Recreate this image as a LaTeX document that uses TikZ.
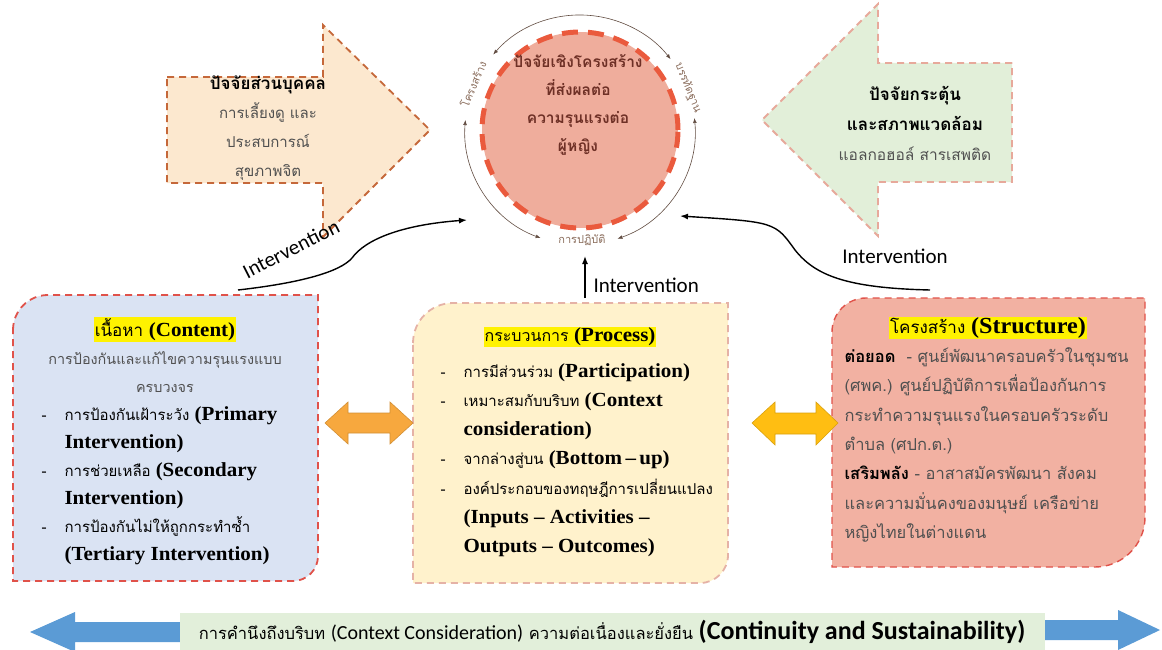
\documentclass[tikz,border=0pt]{standalone}
\usepackage{fontspec}
\setmainfont[Script=Thai]{Loma}
\newfontfamily\tms[FakeStretch=1.05]{Liberation Serif}
\newfontfamily\calib{Carlito}
\usetikzlibrary{arrows.meta}
\definecolor{peach}{HTML}{FCE8CF}
\definecolor{peachline}{HTML}{C5683A}
\definecolor{mint}{HTML}{E2EFD9}
\definecolor{mintline}{HTML}{E7A99B}
\definecolor{salmon}{HTML}{EFAD9C}
\definecolor{ring}{HTML}{EA5A3D}
\definecolor{maroon}{HTML}{6E3026}
\definecolor{paleblue}{HTML}{DAE3F3}
\definecolor{paleyellow}{HTML}{FFF2CC}
\definecolor{pink}{HTML}{F2B1A2}
\definecolor{redline}{HTML}{E0524A}
\definecolor{pinkline}{HTML}{E5B2A6}
\definecolor{txtgray}{HTML}{505050}
\definecolor{arcgray}{HTML}{8A6D5C}
\definecolor{orange}{HTML}{F7A83E}
\definecolor{gold}{HTML}{FFBE12}
\definecolor{barblue}{HTML}{5B9BD5}
\definecolor{bargreen}{HTML}{E2EFDA}
\newcommand{\en}[2][20]{{\tms\bfseries\fontsize{#1}{28}\selectfont #2}}
\newcommand{\hl}[1]{{\setlength{\fboxsep}{1pt}\colorbox{yellow}{\color{black}#1}}}
\newcommand{\itm}{\makebox[23pt][l]{-}}
\newcommand{\ind}{\hspace*{23pt}}
\begin{document}
\begin{tikzpicture}[x=1pt,y=-1pt]
		\tikzstyle{dashbox} = [line width=1.8pt, dash pattern=on 7pt off 5pt]
		\tikzstyle{cyc} = [arcgray!70!black, line width=0.6pt, {Latex[length=5pt]}-{Latex[length=5pt]}]
		\tikzstyle{interv} = [line width=1.4pt, -{Latex[length=8pt]}]
		\tikzstyle{blabel} = [font=\calib\fontsize{21}{22}\selectfont]
	    \useasboundingbox (0,0) rectangle (1162,650);
	    % big side arrows
	    \draw[dashbox, fill=peach, draw=peachline] (167,77) -- (323,77) -- (323,25) -- (430,130) -- (323,237) -- (323,183) -- (167,183) -- cycle;
	    \draw[dashbox, fill=mint, draw=mintline] (1012,63) -- (878,63) -- (878,4) -- (762,120) -- (878,236) -- (878,182) -- (1012,182) -- cycle;
	    \node[align=center, font=\fontsize{15}{29}\selectfont, text=txtgray] (person) at (268,128) {{\color{black}\bfseries\fontsize{17}{29}\selectfont ปัจจัยส่วนบุคคล}\\การเลี้ยงดู และ\\ประสบการณ์\\สุขภาพจิต};
	    \node[align=center, font=\fontsize{15.5}{30}\selectfont, text=txtgray] (trigger) at (915,123) {{\color{black}\bfseries\fontsize{17}{30}\selectfont ปัจจัยกระตุ้น}\\{\color{black}\bfseries\fontsize{17}{30}\selectfont และสภาพแวดล้อม}\\แอลกอฮอล์ สารเสพติด};
	    % centre circle
	    \node[shape=circle, fill=salmon, draw=ring, line width=5pt, dash pattern=on 16pt off 10pt, minimum size=196pt] (circ) at (580,130) {};
	    \node[align=center, font=\bfseries\fontsize{15.5}{28}\selectfont, text=maroon] (ctext) at (578,105) {ปัจจัยเชิงโครงสร้าง\\ที่ส่งผลต่อ\\ความรุนแรงต่อ\\ผู้หญิง};
	    \draw[cyc] ([shift={(221:115)}]circ.center) arc[start angle=221, end angle=322, radius=115];
	    \draw[cyc] ([shift={(185:115)}]circ.center) arc[start angle=185, end angle=110, radius=115];
	    \draw[cyc] ([shift={(-6:115)}]circ.center) arc[start angle=-6, end angle=71, radius=115];
	    \node[rotate=67, text=arcgray, font=\fontsize{11}{12}\selectfont] (lstruct) at (473,84) {โครงสร้าง};
	    \node[rotate=-68, text=arcgray, font=\fontsize{11}{12}\selectfont] (lnorm) at (688,88) {บรรทัดฐาน};
	    \node[text=arcgray, font=\fontsize{11}{12}\selectfont] (lpract) at (582,240) {การปฏิบัติ};
	    % three boxes
	    \draw[dashbox, fill=paleblue, draw=redline] (13,330) arc[start angle=180, end angle=270, radius=35] -- (318,295) -- (318,556) arc[start angle=0, end angle=90, radius=25] -- (13,581) -- cycle;
	    \draw[dashbox, fill=paleyellow, draw=pinkline] (413,343) arc[start angle=180, end angle=270, radius=40] -- (728,303) -- (728,555) arc[start angle=0, end angle=90, radius=28] -- (413,583) -- cycle;
	    \draw[dashbox, line width=1.4pt, fill=pink, draw=redline] (832,332) arc[start angle=180, end angle=270, radius=34] -- (1145,298) -- (1145,517) arc[start angle=0, end angle=90, radius=50] -- (832,567) -- cycle;
	    \node[align=center, font=\fontsize{14.4}{28}\selectfont, text=txtgray] (content) at (165,355) {\hl{\fontsize{17}{20}\selectfont เนื้อหา \en{(Content)}}\\การป้องกันและแก้ไขความรุนแรงแบบ\\ครบวงจร};
	    \node[anchor=west, align=left, font=\fontsize{15}{28}\selectfont] (clist) at (38,486) {\itm การป้องกันเฝ้าระวัง \en{(Primary}\\\ind\en{Intervention)}\\\itm การช่วยเหลือ \en{(Secondary}\\\ind\en{Intervention)}\\\itm การป้องกันไม่ให้ถูกกระทำซ้ำ\\\ind\en{(Tertiary Intervention)}};
	    \node[font=\fontsize{16}{20}\selectfont] (process) at (570,337) {\hl{กระบวนการ \en{(Process)}}};
	    \node[anchor=west, align=left, font=\fontsize{15}{29.2}\selectfont] (plist) at (437,460) {\itm การมีส่วนร่วม \en{(Participation)}\\\itm เหมาะสมกับบริบท \en{(Context}\\\ind\en{consideration)}\\\itm จากล่างสู่บน \en{(Bottom\,–\,up)}\\\itm องค์ประกอบของทฤษฎีการเปลี่ยนแปลง\\\ind\en{(Inputs – Activities –}\\\ind\en{Outputs – Outcomes)}};
	    \node[font=\fontsize{17}{20}\selectfont] (structure) at (988,328) {\hl{โครงสร้าง \en[23]{(Structure)}}};
	    \node[anchor=west, align=left, font=\fontsize{16.5}{29.3}\selectfont, text=txtgray] (slist) at (841,445) {{\color{black}\bfseries ต่อยอด}\ \ - ศูนย์พัฒนาครอบครัวในชุมชน\\(ศพค.) ศูนย์ปฏิบัติการเพื่อป้องกันการ\\กระทำความรุนแรงในครอบครัวระดับ\\ตำบล (ศปก.ต.)\\{\color{black}\bfseries เสริมพลัง} - อาสาสมัครพัฒนา สังคม\\และความมั่นคงของมนุษย์ เครือข่าย\\หญิงไทยในต่างแดน};
	    % double arrows between boxes
	    \draw[fill=orange, draw=orange!85!black, line width=0.6pt] (325,423) -- (348,402) -- (348,413) -- (390,413) -- (390,402) -- (413,423) -- (390,444) -- (390,433) -- (348,433) -- (348,444) -- cycle;
	    \draw[fill=gold, draw=gold!85!black, line width=0.6pt] (752,423) -- (775,402) -- (775,413) -- (816,413) -- (816,402) -- (838,423) -- (816,445) -- (816,434) -- (775,434) -- (775,445) -- cycle;
	    % interventions
	    \coordinate (i1) at (238,290);
	    \coordinate (i1e) at (467,220);
	    \coordinate (i2) at (585,298);
	    \coordinate (i2e) at (585,256);
	    \coordinate (i3) at (930,290);
	    \coordinate (i3e) at (680,216);
	    \draw[interv] (i1) .. controls (300,283) and (340,272) .. (352,258) .. controls (365,240) and (400,225) .. (i1e);
	    \node[blabel, rotate=27] (int1) at (291,249) {Intervention};
	    \path[interv] (i2) edge (i2e);
	    \node[blabel, anchor=west] (int2) at (590,285) {Intervention};
	    \draw[interv] (i3) .. controls (845,288) and (815,275) .. (795,250) .. controls (775,222) .. (i3e);
	    \node[blabel] (int3) at (895,256) {Intervention};
	    % bottom bar
	    \draw[fill=barblue, draw=none] (30,632) -- (75,612) -- (75,622) -- (180,622) -- (180,642) -- (75,642) -- (75,652) -- cycle;
	    \draw[fill=barblue, draw=none] (1160,630) -- (1118,610) -- (1118,620) -- (1045,620) -- (1045,640) -- (1118,640) -- (1118,650) -- cycle;
	    \node[fill=bargreen, minimum width=865pt, minimum height=38pt] (bar) at (612,632) {\fontsize{16.5}{18}\selectfont การคำนึงถึงบริบท {\calib\fontsize{20}{18}\selectfont (Context Consideration)} ความต่อเนื่องและยั่งยืน {\calib\bfseries\fontsize{26}{18}\selectfont (Continuity and Sustainability)}};
\end{tikzpicture}
\end{document}
